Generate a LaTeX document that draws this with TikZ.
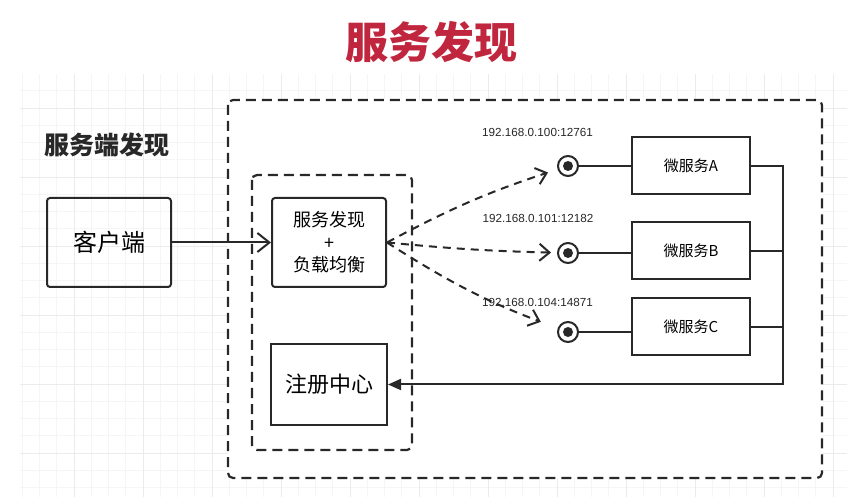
\documentclass[tikz,border=0pt]{standalone}
\usepackage{fontspec}
\setmainfont{Liberation Sans}
\newfontfamily\cjk{Noto Sans CJK SC}
\usetikzlibrary{arrows.meta}

\definecolor{titlered}{RGB}{192,38,62}
\definecolor{linegray}{RGB}{40,40,40}

\tikzset{
    box/.style={draw=linegray, line width=2pt, rounded corners=3pt, inner sep=0pt,
        align=center, font=\cjk\fontsize{18}{22.5}\selectfont},
    plainbox/.style={box, rounded corners=0pt},
    msbox/.style={plainbox, minimum width=118pt, minimum height=57pt, font=\cjk\fontsize{15}{18}\selectfont},
    port/.style={circle, draw=linegray, line width=2pt, minimum size=20pt, inner sep=0pt,
        path picture={\fill[linegray] (path picture bounding box.center) circle (5pt);}},
    iplabel/.style={font=\fontsize{11.7}{14}\selectfont, text=linegray},
    frame/.style={draw=linegray, line width=2.2pt, dash pattern=on 10pt off 6pt, rounded corners=5pt},
    wire/.style={draw=linegray, line width=2pt},
    callarrow/.style={wire, dash pattern=on 8pt off 6pt, -{Straight Barb[length=10pt,width=17pt]}},
}

\begin{document}
\begin{tikzpicture}[x=1pt, y=-1pt]
        \useasboundingbox (0,0) rectangle (847,497);

        % Grid paper
        \begin{scope}[shift={(5,4.5)}]
            \draw[gray!8, line width=0.8pt, step=17.25pt] (15,70) grid (842,493);
        \end{scope}
        \begin{scope}[shift={(5,39)}]
            \draw[gray!16, line width=0.9pt, step=69pt] (15,35.5) grid (842,458.5);
        \end{scope}

        % Title
        \node[font=\cjk\bfseries\fontsize{43}{48}\selectfont, text=titlered] (title) at (431,42) {服务发现};

        % Server side frame
        \draw[frame, fill=white] (228,100) rectangle (822,478);
        \node[font=\cjk\bfseries\fontsize{25}{30}\selectfont, text=linegray] (side) at (107,145) {服务端发现};
        \draw[frame] (252,175) rectangle (412,450);

        % Client, balancer and registry
        \node[box, minimum width=124pt, minimum height=89pt, font=\cjk\fontsize{24}{28}\selectfont] (client) at (109,242.5) {客户端};
        \node[box, minimum width=114pt, minimum height=89pt] (lb) at (329,242.5) {服务发现\\+\\负载均衡};
        \node[plainbox, minimum width=116pt, minimum height=81pt, font=\cjk\fontsize{22}{26}\selectfont] (reg) at (329,384.5) {注册中心};
        \draw[wire, -{Straight Barb[length=12pt,width=19pt]}] (client) -- (lb);

        % Micro services with their ports
        \node[msbox] (msa) at (691,166) {微服务A};
        \node[msbox] (msb) at (691,251) {微服务B};
        \node[msbox] (msc) at (691,327) {微服务C};
        \node[port] (pa) at (568,166) {};
        \node[port] (pb) at (568,253) {};
        \node[port] (pc) at (568,332) {};
        \node[iplabel] (ipa) at (537.5,132) {192.168.0.100:12761};
        \node[iplabel] (ipb) at (538,218) {192.168.0.101:12182};
        \node[iplabel] (ipc) at (537.5,302) {192.168.0.104:14871};
        \draw[wire] (pa) -- (pa -| msa.west);
        \draw[wire] (pb) -- (pb -| msb.west);
        \draw[wire] (pc) -- (pc -| msc.west);

        % Calls from the balancer
        \draw[callarrow, shorten >=10pt] (lb.east) to[bend left=5] (pa);
        \draw[callarrow, shorten >=6pt] (lb.east) to[bend right=2] (pb);
        \draw[callarrow, shorten >=18pt] (lb.east) to[bend right=6] (pc);

        % Registration back to the registry
        \coordinate (bus) at (783,0);
        \draw[wire] (msb.east) -- (msb.east -| bus);
        \draw[wire] (msc.east) -- (msc.east -| bus);
        \draw[wire, -{Triangle[length=13pt,width=11pt]}] (msa.east) -| (bus |- reg.east) -- (reg.east);
    \end{tikzpicture}
\end{document}
